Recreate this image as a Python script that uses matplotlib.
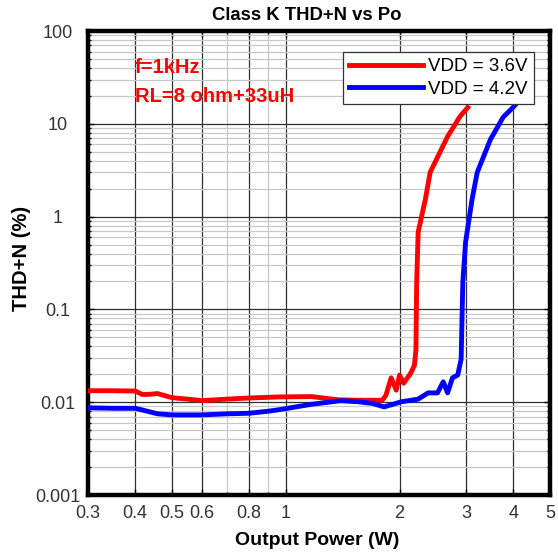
import matplotlib
matplotlib.use("Agg")
import matplotlib.pyplot as plt
from matplotlib.ticker import FixedLocator, NullFormatter

plt.rcParams['font.family'] = ['Liberation Sans', 'DejaVu Sans']

# VDD = 3.6V
po_36 = [0.30, 0.35, 0.40, 0.418, 0.44, 0.458, 0.50, 0.55, 0.60, 0.70, 0.80, 0.96,
         1.17, 1.38, 1.56, 1.80, 1.84, 1.90, 1.96, 2.00, 2.05, 2.14, 2.19, 2.21,
         2.22, 2.24, 2.34, 2.41, 2.68, 2.89, 3.03]
thd_36 = [0.0133, 0.0133, 0.0132, 0.0121, 0.0122, 0.0124, 0.0112, 0.0108, 0.0104,
          0.0108, 0.0111, 0.0114, 0.0115, 0.0106, 0.0105, 0.0105, 0.0118, 0.0183,
          0.0135, 0.0196, 0.0160, 0.0205, 0.025, 0.037, 0.195, 0.68, 1.53, 3.0,
          7.3, 12.0, 15.0]

# VDD = 4.2V
po_42 = [0.30, 0.35, 0.40, 0.43, 0.458, 0.50, 0.60, 0.70, 0.80, 0.90, 0.96, 1.17,
         1.40, 1.556, 1.70, 1.82, 2.02, 2.24, 2.38, 2.52, 2.61, 2.68, 2.76, 2.85,
         2.91, 2.94, 2.99, 3.11, 3.21, 3.48, 3.76, 3.99, 4.10]
thd_42 = [0.0087, 0.0086, 0.0086, 0.0080, 0.0075, 0.0073, 0.0073, 0.0075, 0.0076,
          0.0080, 0.0083, 0.0095, 0.0104, 0.0101, 0.0097, 0.0089, 0.0101, 0.0108,
          0.0126, 0.0126, 0.0166, 0.0126, 0.0183, 0.0196, 0.029, 0.195, 0.53,
          1.53, 3.0, 6.8, 11.8, 15.0, 17.0]

x_major = [0.3, 0.4, 0.5, 0.6, 0.8, 1, 2, 3, 4, 5]
x_minor = [0.7, 0.9]
y_major = [0.001, 0.01, 0.1, 1, 10, 100]
y_labels = ['0.001', '0.01', '0.1', '1', '10', '100']

fig = plt.figure(figsize=(5.58, 5.57), dpi=100)
ax = fig.add_axes([0.1577, 0.1113, 0.828, 0.833])

ax.plot(po_36, thd_36, color='#ff0000', lw=3.5, label='VDD = 3.6V', zorder=3)
ax.plot(po_42, thd_42, color='#0000ff', lw=3.5, label='VDD = 4.2V', zorder=3)

ax.set_xscale('log')
ax.set_yscale('log')
ax.set_xlim(0.3, 5)
ax.set_ylim(0.001, 100)

ax.xaxis.set_major_locator(FixedLocator(x_major))
ax.set_xticklabels([str(v) for v in x_major])
ax.xaxis.set_minor_locator(FixedLocator(x_minor))
ax.xaxis.set_minor_formatter(NullFormatter())
ax.yaxis.set_major_locator(FixedLocator(y_major))
ax.set_yticklabels(y_labels)

ax.grid(which='major', color='#303030', lw=0.9)
ax.grid(which='minor', color='#c8c8c8', lw=0.9)
ax.set_axisbelow(True)

ax.tick_params(which='both', direction='in', top=True, right=True,
               labelsize=13, labelcolor='#333333', length=4, width=1)
ax.tick_params(which='minor', length=2.5)
ax.tick_params(axis='x', pad=7.5)
ax.tick_params(axis='y', pad=22)
for lbl in ax.get_yticklabels():
    lbl.set_ha('center')
for s in ax.spines.values():
    s.set_linewidth(3.2)
    s.set_color('black')

ax.text(0.474, 1.034, 'Class K THD+N vs Po', transform=ax.transAxes,
        fontsize=13.3, fontweight='bold', ha='center', va='center')
ax.set_xlabel('Output Power (W)', fontsize=14, fontweight='bold', va='center')
ax.xaxis.set_label_coords(0.497, -0.097)
ax.set_ylabel('THD+N (%)', fontsize=14.5, fontweight='bold', va='center')
ax.yaxis.set_label_coords(-0.143, 0.51)

ax.text(0.102, 0.922, 'f=1kHz', transform=ax.transAxes, color='#ff0000',
        fontsize=14.5, fontweight='bold', va='center')
ax.text(0.102, 0.858, 'RL=8 ohm+33uH', transform=ax.transAxes, color='#ff0000',
        fontsize=14.5, fontweight='bold', va='center')

leg = ax.legend(loc='upper right', bbox_to_anchor=(0.965, 0.955), borderaxespad=0,
                fontsize=13.5, handlelength=3.9, framealpha=1, fancybox=False,
                edgecolor='#333333', labelspacing=0.28, borderpad=0.33,
                handletextpad=0.3)
leg.get_frame().set_linewidth(0.9)

fig.savefig('out.png', dpi=100)
